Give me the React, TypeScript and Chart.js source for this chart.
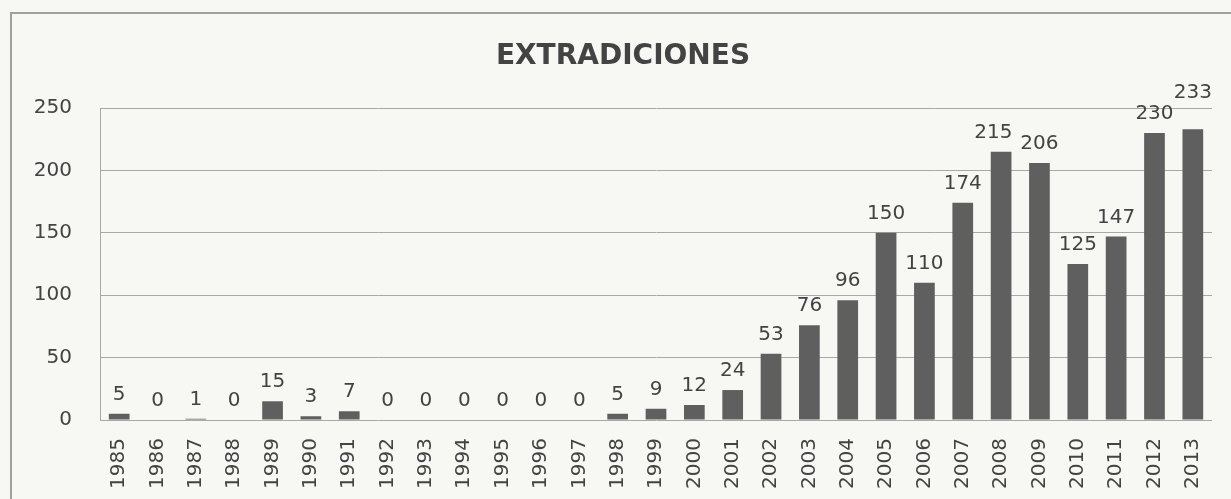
import React, { useEffect, useRef } from "react";
import { Chart, registerables } from "chart.js";

Chart.register(...registerables);

const years = [
  "1985", "1986", "1987", "1988", "1989", "1990", "1991", "1992", "1993", "1994",
  "1995", "1996", "1997", "1998", "1999", "2000", "2001", "2002", "2003", "2004",
  "2005", "2006", "2007", "2008", "2009", "2010", "2011", "2012", "2013",
];
const extradiciones = [
  5, 0, 1, 0, 15, 3, 7, 0, 0, 0,
  0, 0, 0, 5, 9, 12, 24, 53, 76, 96,
  150, 110, 174, 215, 206, 125, 147, 230, 233,
];
const yTicks = [0, 50, 100, 150, 200, 250];
const chartTitle = "EXTRADICIONES";

const FONT = "'DejaVu Sans', sans-serif";
const TEXT = "#434343";
const GRID = "#a8a8a8";
const BAR = "#5f5f5f";
const BG = "#f7f7f3";

const labelPlugin = {
  id: "valueLabels",
  afterDatasetsDraw(chart: any) {
    const ctx = chart.ctx;
    const meta = chart.getDatasetMeta(0);
    const data = chart.data.datasets[0].data as number[];
    ctx.save();
    ctx.font = `20px ${FONT}`;
    ctx.fillStyle = TEXT;
    ctx.textAlign = "center";
    ctx.textBaseline = "alphabetic";
    const h = 15;
    const boxes: { x: number; y: number; w: number; v: number; t: string }[] = [];
    meta.data.forEach((el: any, i: number) => {
      const t = String(data[i]);
      const w = ctx.measureText(t).width;
      boxes.push({ x: el.x, y: el.y - 14, w, v: data[i], t });
    });
    for (let i = 1; i < boxes.length; i++) {
      const a = boxes[i - 1];
      const b = boxes[i];
      const hOverlap = a.x + a.w / 2 + 2 - (b.x - b.w / 2);
      const vOverlap = Math.abs(a.y - b.y) < h;
      if (hOverlap > 0 && vOverlap) {
        if (b.v > a.v) {
          b.y = a.y - h - 6;
        } else {
          a.x -= hOverlap + 6;
        }
      }
    }
    boxes.forEach((b) => ctx.fillText(b.t, b.x, b.y));
    ctx.restore();
  },
};

const titlePlugin = {
  id: "customTitle",
  afterDraw(chart: any) {
    const ctx = chart.ctx;
    ctx.save();
    ctx.font = `bold 28px ${FONT}`;
    ctx.fillStyle = TEXT;
    ctx.textAlign = "center";
    ctx.textBaseline = "middle";
    ctx.fillText(chartTitle, 623, 57);
    ctx.restore();
  },
};

export default function App() {
  const ref = useRef<HTMLCanvasElement | null>(null);

  useEffect(() => {
    if (!ref.current) return;
    const chart = new Chart(ref.current, {
      type: "bar",
      data: {
        labels: years,
        datasets: [
          {
            data: extradiciones,
            backgroundColor: BAR,
            borderWidth: 0,
            barPercentage: 0.54,
            categoryPercentage: 1,
          },
        ],
      },
      options: {
        animation: false,
        responsive: false,
        maintainAspectRatio: false,
        layout: { padding: { left: 0, right: 19, top: 108, bottom: 0 } },
        plugins: {
          legend: { display: false },
          title: { display: false },
          tooltip: { enabled: false },
        },
        scales: {
          x: {
            afterFit: (s: any) => {
              s.height = 79;
              s.paddingLeft = 0;
              s.paddingRight = 0;
            },
            grid: { display: false, drawTicks: false },
            border: { display: false },
            ticks: {
              autoSkip: false,
              minRotation: 90,
              maxRotation: 90,
              padding: 18,
              color: TEXT,
              font: { family: FONT, size: 20 },
            },
          },
          y: {
            min: 0,
            max: 250,
            afterFit: (s: any) => {
              s.width = 100;
              s.paddingTop = 0;
              s.paddingBottom = 0;
            },
            afterBuildTicks: (s: any) => {
              s.ticks = yTicks.map((v) => ({ value: v }));
            },
            grid: { color: GRID, lineWidth: 1, drawTicks: false },
            border: { display: true, color: GRID, width: 1 },
            ticks: {
              padding: 28,
              color: TEXT,
              font: { family: FONT, size: 20 },
            },
          },
        },
      },
      plugins: [labelPlugin, titlePlugin],
    });
    return () => chart.destroy();
  }, []);

  return (
    <div
      style={{
        position: "fixed",
        left: 0,
        top: 0,
        width: 1231,
        height: 499,
        background: BG,
        overflow: "hidden",
      }}
    >
      <div
        style={{
          position: "absolute",
          left: 10,
          top: 12,
          width: 1300,
          height: 600,
          border: "2px solid #a0a0a0",
          boxSizing: "border-box",
        }}
      />
      <canvas
        ref={ref}
        width={1231}
        height={499}
        style={{ position: "absolute", left: 0, top: 0, width: 1231, height: 499 }}
      />
    </div>
  );
}
